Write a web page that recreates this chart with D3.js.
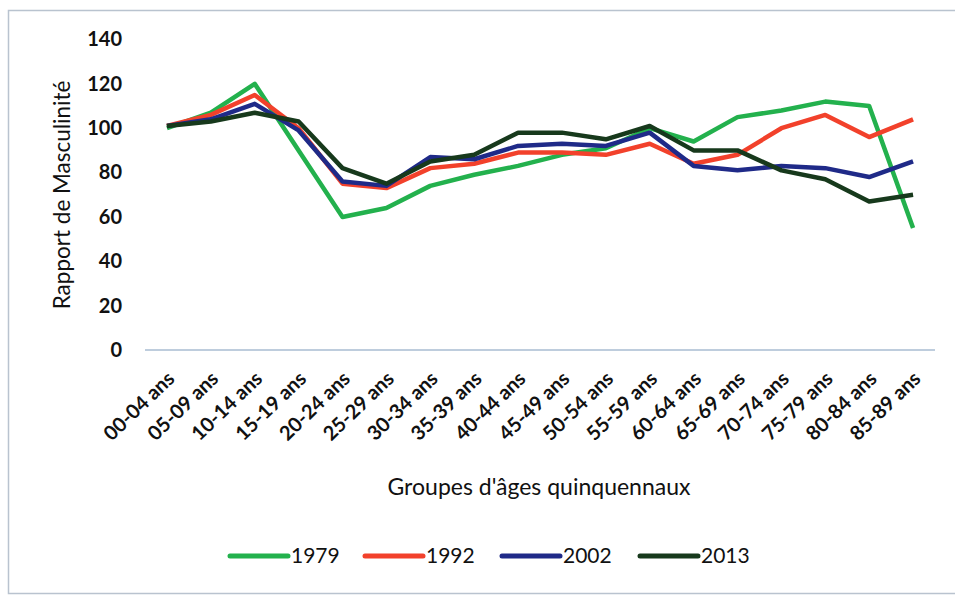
<!DOCTYPE html>
<html>
<head>
<meta charset="utf-8">
<script src="https://cdn.jsdelivr.net/npm/d3@7"></script>
<style>
  body { margin: 0; background: #fff; }
  text { font-family: Lato, "Open Sans", sans-serif; fill: #111; }
</style>
</head>
<body>
<svg id="chart" width="955" height="596"></svg>
<script>
// age groups (x categories)
var ageGroups = ["00-04 ans", "05-09 ans", "10-14 ans", "15-19 ans", "20-24 ans", "25-29 ans",
  "30-34 ans", "35-39 ans", "40-44 ans", "45-49 ans", "50-54 ans", "55-59 ans",
  "60-64 ans", "65-69 ans", "70-74 ans", "75-79 ans", "80-84 ans", "85-89 ans"];

// sex ratio per census year
var years = ["1979", "1992", "2002", "2013"];
var values1979 = [100, 107, 120, 90, 60, 64, 74, 79, 83, 88, 91, 100, 94, 105, 108, 112, 110, 55];
var values1992 = [101, 106, 115, 100, 75, 73, 82, 84, 89, 89, 88, 93, 84, 88, 100, 106, 96, 104];
var values2002 = [101, 104, 111, 99, 76, 74, 87, 86, 92, 93, 92, 98, 83, 81, 83, 82, 78, 85];
var values2013 = [101, 103, 107, 103, 82, 75, 85, 88, 98, 98, 95, 101, 90, 90, 81, 77, 67, 70];
var yTicks = [0, 20, 40, 60, 80, 100, 120, 140];

var colors = ["#23b14d", "#f2412b", "#1f2a88", "#17391c"];
var series = [values1979, values1992, values2002, values2013];

var svg = d3.select("#chart");

// outer frame
svg.append("rect")
  .attr("x", 8.5).attr("y", 10.5)
  .attr("width", 960).attr("height", 583)
  .attr("fill", "none")
  .attr("stroke", "#b9c3cf")
  .attr("stroke-width", 1.5);

var x = d3.scaleBand().domain(ageGroups).range([145, 935]);
var y = d3.scaleLinear().domain([0, 140]).range([350, 39.5]);

// y labels
var yAxis = svg.append("g").attr("transform", "translate(122,0)")
  .call(d3.axisLeft(y).tickValues(yTicks).tickSize(0).tickPadding(0));
yAxis.select(".domain").remove();
yAxis.selectAll("text")
  .style("font-size", "20px")
  .style("font-weight", "bold")
  .attr("fill", "#111");

// baseline
svg.append("line")
  .attr("x1", 145).attr("x2", 935)
  .attr("y1", y(0)).attr("y2", y(0))
  .attr("stroke", "#a9bdd2")
  .attr("stroke-width", 1.5);

// x labels, rotated
svg.append("g").selectAll("text")
  .data(ageGroups)
  .enter()
  .append("text")
  .attr("transform", function (d) {
    return "translate(" + (x(d) + x.bandwidth() / 2 + 4) + ",375) rotate(-44)";
  })
  .attr("text-anchor", "end")
  .attr("dy", "0.35em")
  .style("font-size", "20px")
  .style("font-weight", "bold")
  .text(function (d) { return d; });

// lines
var line = d3.line()
  .x(function (d, i) { return x(ageGroups[i]) + x.bandwidth() / 2; })
  .y(function (d) { return y(d); });

svg.append("g").selectAll("path")
  .data(series)
  .enter()
  .append("path")
  .attr("d", line)
  .attr("fill", "none")
  .attr("stroke", function (d, i) { return colors[i]; })
  .attr("stroke-width", 4.5)
  .attr("stroke-linejoin", "round");

// axis titles
svg.append("text")
  .attr("transform", "translate(70,195) rotate(-90)")
  .attr("text-anchor", "middle")
  .style("font-size", "22.5px")
  .text("Rapport de Masculinité");

svg.append("text")
  .attr("x", 539).attr("y", 495)
  .attr("text-anchor", "middle")
  .style("font-size", "23px")
  .text("Groupes d'âges quinquennaux");

// legend
var legendX = [230, 365, 502, 640];
var legend = svg.append("g").selectAll("g")
  .data(years)
  .enter()
  .append("g")
  .attr("transform", function (d, i) { return "translate(" + legendX[i] + ",556)"; });

legend.append("line")
  .attr("x1", 0).attr("x2", 58)
  .attr("stroke", function (d, i) { return colors[i]; })
  .attr("stroke-width", 5)
  .attr("stroke-linecap", "round");

legend.append("text")
  .attr("x", 61)
  .attr("dy", "0.35em")
  .style("font-size", "21px")
  .text(function (d) { return d; });
</script>
</body>
</html>
